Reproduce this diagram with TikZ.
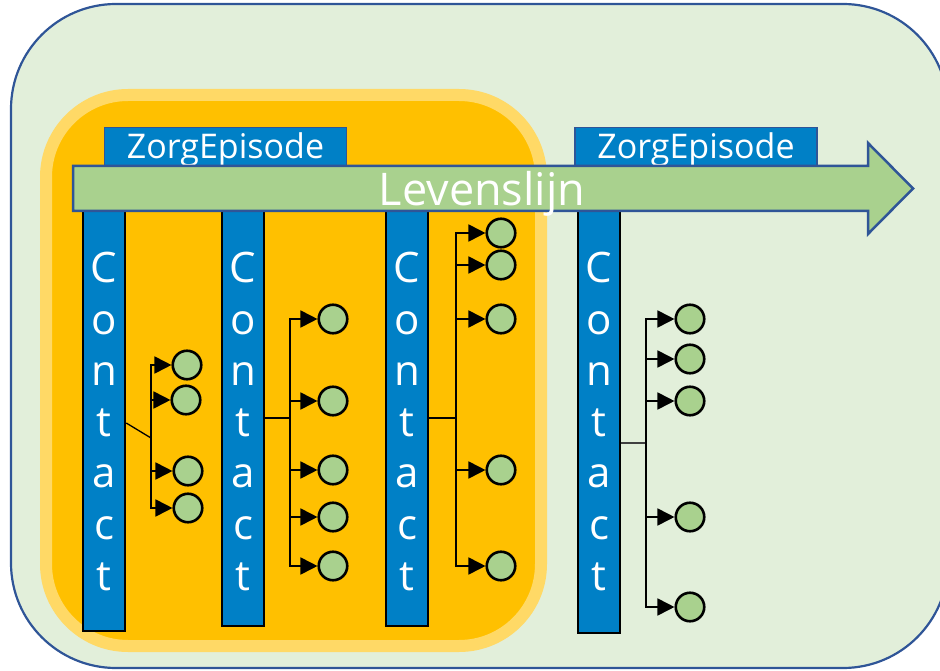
\documentclass[tikz,border=0pt]{standalone}
\usepackage{fontspec}
\setmainfont{Open Sans}
\usetikzlibrary{arrows.meta}
\definecolor{bgreen}{HTML}{E2EFDA}
\definecolor{navy}{HTML}{2F5597}
\definecolor{orangeF}{HTML}{FFC000}
\definecolor{yellowB}{HTML}{FFD966}
\definecolor{cblue}{HTML}{0080C6}
\definecolor{leaf}{HTML}{A9D18E}
\begin{document}
\begin{tikzpicture}[x=1pt,y=-1pt,
  outerbox/.style={draw=navy,line width=2.2pt,fill=bgreen,rounded corners=105pt},
  episodebox/.style={draw=yellowB,line width=12pt,fill=orangeF,rounded corners=82pt},
  zorg/.style={draw=navy,line width=1.8pt,fill=cblue,minimum width=242pt,minimum height=44pt,inner sep=0pt,text=white,font=\fontsize{34}{40}\selectfont},
  bar/.style={draw=black,line width=2.5pt,fill=cblue,minimum width=42pt,inner sep=0pt},
  timeline/.style={draw=navy,line width=2.5pt,fill=leaf,line join=miter},
  lvtext/.style={text=white,font=\fontsize{45}{54}\selectfont,inner sep=0pt,anchor=base},
  letter/.style={text=white,font=\fontsize{42}{50}\selectfont,inner sep=0pt,anchor=base},
  conn/.style={draw=black,line width=1.8pt},
  arr/.style={conn,-{Triangle[length=17pt,width=17pt]}},
  dot/.style={circle,draw=black,line width=2.6pt,fill=leaf,minimum size=28.5pt,inner sep=0pt}
]
\useasboundingbox (0,0) rectangle (940,671);
\begin{scope}
  \clip (0,0) rectangle (940,671);
  \path[outerbox] (11,4) rectangle (948,668);
\end{scope}
\path[episodebox] (46,95) rectangle (541,646);

\node[zorg] (z1) at (225.5,149.5) {ZorgEpisode};
\node[zorg] (z2) at (696,149.5) {ZorgEpisode};

\node[bar,minimum height=425pt] (k1) at (104,418.5) {};
\node[bar,minimum height=420pt] (k2) at (243,416) {};
\node[bar,minimum height=420pt] (k3) at (407,416) {};
\node[bar,minimum height=427pt] (k4) at (599,419.5) {};

\path[timeline] (73,166) -- (868,166) -- (868,143) -- (913,188.5) -- (868,234) -- (868,211) -- (73,211) -- cycle;
\node[lvtext] (lv) at (482,206) {Levenslijn};

\foreach \b/\x in {1/104,2/243,3/407,4/599}{
  \foreach \l [count=\i from 0] in {C,o,n,t,a,c,t}{
    \node[letter] (k\b l\i) at (\x,{283+51.2*\i}) {\l};
  }
}

% group 1
\coordinate (j1) at (151,438);
\draw[conn,line width=1.3pt] (k1.east |- 0,423) -- (j1);
\node[dot] (c11) at (187,365) {};
\node[dot] (c12) at (186,400) {};
\node[dot] (c13) at (188,471) {};
\node[dot] (c14) at (188,508) {};
\foreach \c in {c11,c12,c13,c14}{\draw[arr] (j1) |- (\c.west);}

% group 2
\coordinate (j2) at (290,418);
\draw[conn] (k2.east |- j2) -- (j2);
\node[dot] (c21) at (333,319) {};
\node[dot] (c22) at (333,401) {};
\node[dot] (c23) at (333,470) {};
\node[dot] (c24) at (333,517) {};
\node[dot] (c25) at (333,566) {};
\foreach \c in {c21,c22,c23,c24,c25}{\draw[arr] (j2) |- (\c.west);}

% group 3
\coordinate (j3) at (456,418);
\draw[conn] (k3.east |- j3) -- (j3);
\node[dot] (c31) at (501,233) {};
\node[dot] (c32) at (501,265) {};
\node[dot] (c33) at (501,319) {};
\node[dot] (c34) at (501,470) {};
\node[dot] (c35) at (501,566) {};
\foreach \c in {c31,c32,c33,c34,c35}{\draw[arr] (j3) |- (\c.west);}

% group 4
\coordinate (j4) at (646,443);
\draw[conn,draw=black!75,line width=1.4pt] (k4.east |- j4) -- (j4);
\node[dot] (c41) at (690,319) {};
\node[dot] (c42) at (690,359) {};
\node[dot] (c43) at (690,401) {};
\node[dot] (c44) at (690,517) {};
\node[dot] (c45) at (690,607) {};
\foreach \c in {c41,c42,c43,c44,c45}{\draw[arr] (j4) |- (\c.west);}
\end{tikzpicture}
\end{document}
